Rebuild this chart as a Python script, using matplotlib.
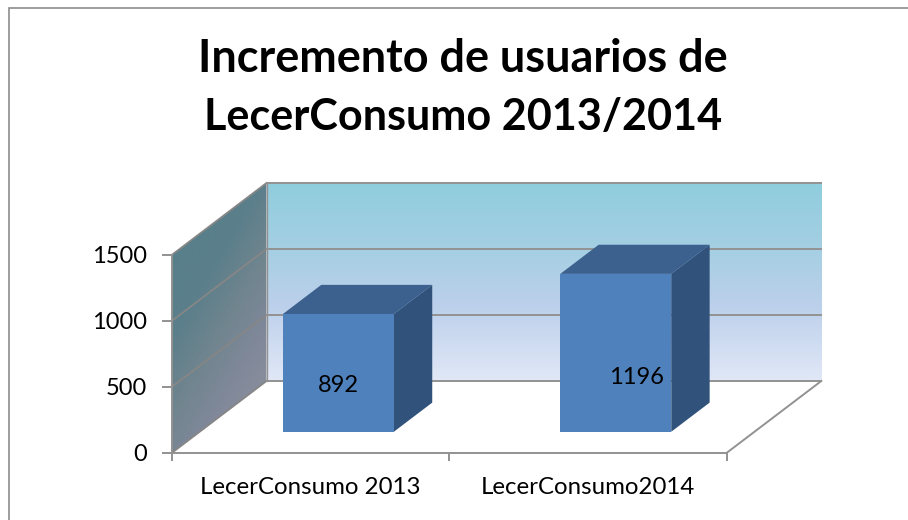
import numpy as np
import matplotlib.pyplot as plt
from matplotlib.colors import LinearSegmentedColormap
from matplotlib.lines import Line2D
from matplotlib.patches import Polygon

# Datos
categorias = ['LecerConsumo 2013', 'LecerConsumo2014']
usuarios = [892, 1196]
ticks_y = [0, 500, 1000, 1500]
titulo = ['Incremento de usuarios de', 'LecerConsumo 2013/2014']

W, H = 908, 520
plt.rcParams['font.family'] = ['Lato', 'DejaVu Sans']

fig = plt.figure(figsize=(W / 100, H / 100), dpi=100)
fig.patch.set_facecolor('white')

# el plano frontal del grafico en pixeles
x0, x1, y0, y1 = 171.7, 726.5, 453.0, 255.0
ax = fig.add_axes([x0 / W, 1 - y0 / H, (x1 - x0) / W, (y0 - y1) / H])
ax.set_xlim(0.5, 2.5)
ax.set_ylim(0, 1500)
ax.axis('off')

# perspectiva oblicua: cuanto se desplaza un punto al ir al fondo
prof_x = 94.8 / (x1 - x0) * 2
prof_y = 72.0 / (y0 - y1) * 1500


def p(x, y, d=0.0):
    return (x + d * prof_x, y + d * prof_y)


gris = '#929292'
x_izq, x_der = ax.get_xlim()
y_max = ticks_y[-1]

# pared del fondo con degradado
cm_fondo = LinearSegmentedColormap.from_list('fondo', [
    (0.0, '#8FCDDD'), (0.33, '#A5CFE3'), (0.62, '#BCD0EB'), (1.0, '#E1E8F7')])
grad = np.linspace(0, 1, 256).reshape(-1, 1)
ax.imshow(grad, cmap=cm_fondo, aspect='auto', zorder=1, clip_on=False,
          extent=[p(x_izq, 0, 1)[0], p(x_der, 0, 1)[0], p(0, 0, 1)[1], p(0, y_max, 1)[1]])

# pared izquierda, degradado en diagonal
cm_lado = LinearSegmentedColormap.from_list('lado', [
    (0.0, '#567F8A'), (0.3, '#5B7F8B'), (0.5, '#71858F'), (0.68, '#80889A'), (1.0, '#93959E')])
xx, yy = np.meshgrid(np.linspace(0, 1, 128), np.linspace(0, 1, 128))
img_lado = ax.imshow(0.45 * xx + 0.75 * yy, cmap=cm_lado, aspect='auto', zorder=1, vmin=0.1, vmax=1.2,
                     extent=[x_izq, p(x_izq, 0, 1)[0], 0, p(0, y_max, 1)[1]])
lado = Polygon([p(x_izq, 0), p(x_izq, y_max), p(x_izq, y_max, 1), p(x_izq, 0, 1)],
               closed=True, transform=ax.transData, fc='none', ec='none', clip_on=False)
ax.add_patch(lado)
img_lado.set_clip_box(fig.bbox)
img_lado.set_clip_path(lado)
ax.set_xlim(x_izq, x_der)
ax.set_ylim(0, y_max)

# lineas de division
for t in ticks_y:
    ax.plot(*zip(p(x_izq, t), p(x_izq, t, 1)), color='#868686', lw=1.3, zorder=2, clip_on=False)
    ax.plot(*zip(p(x_izq, t, 1), p(x_der, t, 1)), color=gris, lw=1.4, zorder=2, clip_on=False)
    ax.plot([x_izq - 0.032, x_izq], [t, t], color=gris, lw=1.4, zorder=2, clip_on=False)
    ax.text(x_izq - 0.09, t - 12, str(t), ha='right', va='center', fontsize=17, color='black')

# suelo y ejes
xs, ys = zip(p(x_izq, 0), p(x_der, 0), p(x_der, 0, 1))
ax.plot(xs, ys, color=gris, lw=1.4, zorder=2, clip_on=False)
ax.plot([x_izq, x_izq], [0, y_max], color=gris, lw=1.4, zorder=2, clip_on=False)
ax.plot([p(x_izq, 0, 1)[0]] * 2, [p(0, 0, 1)[1], p(0, y_max, 1)[1]], color=gris, lw=1.0, zorder=2, clip_on=False)
for xt in [0.5, 1.5, 2.5]:
    ax.plot([xt, xt], [0, -52], color=gris, lw=1.4, zorder=2, clip_on=False)

# barras
ancho = 0.4
d1, d2 = 0.295, 0.70
pos = [1, 2]
for xc, v in zip(pos, usuarios):
    a, b = xc - ancho / 2, xc + ancho / 2
    frente = Polygon([p(a, 0, d1), p(b, 0, d1), p(b, v, d1), p(a, v, d1)], closed=True,
                     fc='#4F81BD', ec='none', zorder=5, clip_on=False)
    arriba = Polygon([p(a, v, d1), p(b, v, d1), p(b, v, d2), p(a, v, d2)], closed=True,
                     fc='#3C618E', ec='none', zorder=4, clip_on=False)
    lateral = Polygon([p(b, 0, d1), p(b, 0, d2), p(b, v, d2), p(b, v, d1)], closed=True,
                      fc='#30527B', ec='none', zorder=4, clip_on=False)
    for pol in (lateral, arriba, frente):
        ax.add_patch(pol)

# etiquetas de datos
ax.text(1.1, 515, str(usuarios[0]), ha='center', va='center', fontsize=17, zorder=6)
ax.text(2.175, 575, str(usuarios[1]), ha='center', va='center', fontsize=17, zorder=6)

# categorias
for xc, c in zip(pos, categorias):
    ax.text(xc, -262, c, ha='center', va='center', fontsize=17.3, color='black')

# marco: solo izquierda y arriba
marco = Line2D([9 / W, 9 / W, 1], [0, 1 - 7.5 / H, 1 - 7.5 / H], transform=fig.transFigure,
               color='#8C8C8C', lw=1.2, solid_joinstyle='miter')
fig.add_artist(marco)

# titulo, cada linea por separado para ajustar el ancho
fig.text(463 / W, 1 - 59 / H, titulo[0], ha='center', va='center', fontsize=32.4,
         fontweight='bold', color='black')
fig.text(463.5 / W, 1 - 117 / H, titulo[1], ha='center', va='center', fontsize=31.1,
         fontweight='bold', color='black')

fig.savefig('out.png', dpi=100)
